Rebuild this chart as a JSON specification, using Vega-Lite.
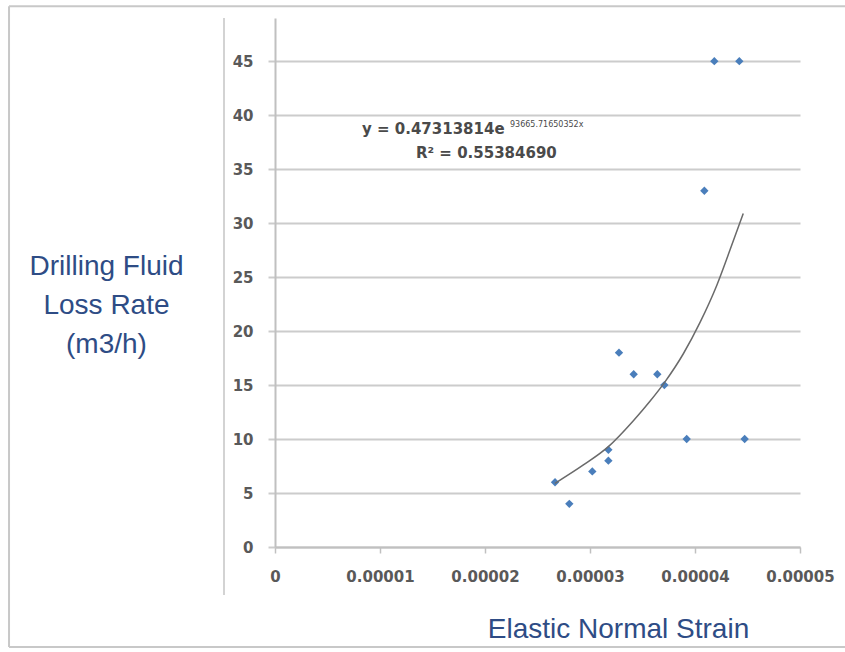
{
  "$schema": "https://vega.github.io/schema/vega-lite/v6.json",
  "width": 525,
  "height": 529,
  "autosize": {"type": "none"},
  "padding": {"left": 275, "top": 18, "right": 45, "bottom": 105},
  "background": "#ffffff",
  "view": {"stroke": null},
  "datasets": {
    "points": [
      {"strain": 0.00004184, "rate": 45},
      {"strain": 0.00004422, "rate": 45},
      {"strain": 0.00004089, "rate": 33},
      {"strain": 0.00003276, "rate": 18},
      {"strain": 0.00003416, "rate": 16},
      {"strain": 0.00003641, "rate": 16},
      {"strain": 0.00003708, "rate": 15},
      {"strain": 0.00003921, "rate": 10},
      {"strain": 0.00004473, "rate": 10},
      {"strain": 0.00003175, "rate": 9},
      {"strain": 0.00003175, "rate": 8},
      {"strain": 0.00003022, "rate": 7},
      {"strain": 0.00002667, "rate": 6},
      {"strain": 0.00002803, "rate": 4}
    ],
    "trend": [
      {"strain": 0.00002667, "rate": 5.9},
      {"strain": 0.00002937, "rate": 7.6},
      {"strain": 0.00003175, "rate": 9.3},
      {"strain": 0.00003413, "rate": 11.7},
      {"strain": 0.00003571, "rate": 13.5},
      {"strain": 0.00003714, "rate": 15.3},
      {"strain": 0.00003889, "rate": 17.9},
      {"strain": 0.00004048, "rate": 20.8},
      {"strain": 0.00004206, "rate": 24.2},
      {"strain": 0.00004333, "rate": 27.5},
      {"strain": 0.00004460, "rate": 30.9}
    ]
  },
  "layer": [
    {
      "data": {"values": [{}]},
      "mark": {"type": "rule", "stroke": "#c8c8c8", "strokeWidth": 2, "clip": false},
      "encoding": {
        "x": {"datum": -0.00002533, "type": "quantitative", "scale": {"domain": [0, 0.00005], "nice": false, "zero": false}},
        "x2": {"datum": 0.000056},
        "y": {"datum": 50.09, "type": "quantitative", "scale": {"domain": [0, 49], "nice": false, "zero": false}},
        "y2": {"datum": 50.09}
      }
    },
    {
      "data": {"values": [{}]},
      "mark": {"type": "rule", "stroke": "#c8c8c8", "strokeWidth": 2, "clip": false},
      "encoding": {
        "x": {"datum": -0.00002533, "type": "quantitative"},
        "x2": {"datum": 0.000056},
        "y": {"datum": -9.26, "type": "quantitative"},
        "y2": {"datum": -9.26}
      }
    },
    {
      "data": {"values": [{}]},
      "mark": {"type": "rule", "stroke": "#c8c8c8", "strokeWidth": 2, "clip": false},
      "encoding": {
        "x": {"datum": -0.00002533, "type": "quantitative"},
        "y": {"datum": -9.26, "type": "quantitative"},
        "y2": {"datum": 50.09}
      }
    },
    {
      "data": {"values": [{}]},
      "mark": {"type": "rule", "stroke": "#c4c4c4", "strokeWidth": 1.5, "clip": false},
      "encoding": {
        "x": {"datum": -0.000004857, "type": "quantitative"},
        "y": {"datum": -4.44, "type": "quantitative"},
        "y2": {"datum": 49}
      }
    },
    {
      "data": {"name": "points"},
      "mark": {"type": "point", "shape": "diamond", "filled": true, "size": 70, "color": "#4a7ebb", "opacity": 1},
      "encoding": {
        "x": {
          "field": "strain",
          "type": "quantitative",
          "scale": {"domain": [0, 0.00005], "nice": false, "zero": false},
          "axis": {
            "values": [0, 0.00001, 0.00002, 0.00003, 0.00004, 0.00005],
            "labelExpr": "datum.value === 0 ? '0' : format(datum.value, '.5f')",
            "grid": false,
            "domainColor": "#c0c0c0",
            "domainWidth": 2,
            "tickColor": "#c0c0c0",
            "tickWidth": 1.5,
            "tickSize": 6,
            "labelPadding": 16,
            "labelFont": "DejaVu Sans",
            "labelFontWeight": "bold",
            "labelFontSize": 15,
            "labelColor": "#595959",
            "labelFlush": false,
            "labelOverlap": false,
            "title": "Elastic Normal Strain",
            "titleFont": "Liberation Sans",
            "titleFontWeight": "normal",
            "titleFontSize": 28,
            "titleColor": "#2e4c85",
            "titleAnchor": null,
            "titleAlign": "center",
            "titleBaseline": "alphabetic",
            "titleX": 343,
            "titleY": 90
          }
        },
        "y": {
          "field": "rate",
          "type": "quantitative",
          "scale": {"domain": [0, 49], "nice": false, "zero": false},
          "axis": {
            "values": [0, 5, 10, 15, 20, 25, 30, 35, 40, 45],
            "grid": true,
            "gridColor": "#cccccc",
            "gridWidth": 2,
            "domainColor": "#c0c0c0",
            "domainWidth": 2,
            "tickColor": "#cccccc",
            "tickWidth": 2,
            "tickSize": 7,
            "labelPadding": 15,
            "labelFont": "DejaVu Sans",
            "labelFontWeight": "bold",
            "labelFontSize": 15,
            "labelColor": "#595959",
            "labelFlush": false,
            "labelOverlap": false,
            "title": ["Drilling Fluid", "Loss Rate", "(m3/h)"],
            "titleFont": "Liberation Sans",
            "titleFontWeight": "normal",
            "titleFontSize": 28,
            "titleColor": "#2e4c85",
            "titleAngle": 0,
            "titleAlign": "center",
            "titleBaseline": "alphabetic",
            "titleLineHeight": 39,
            "titleX": -169,
            "titleY": 256
          }
        }
      }
    },
    {
      "data": {"name": "trend"},
      "mark": {"type": "line", "color": "#6a6a6a", "strokeWidth": 1.5, "interpolate": "monotone"},
      "encoding": {
        "x": {"field": "strain", "type": "quantitative"},
        "y": {"field": "rate", "type": "quantitative"}
      }
    },
    {
      "data": {"values": [{}]},
      "mark": {"type": "text", "text": "y = 0.47313814e", "align": "left", "baseline": "alphabetic", "font": "DejaVu Sans", "fontWeight": "bold", "fontSize": 15, "color": "#4a4a4a"},
      "encoding": {
        "x": {"datum": 0.000008286, "type": "quantitative"},
        "y": {"datum": 38.24, "type": "quantitative"}
      }
    },
    {
      "data": {"values": [{}]},
      "mark": {"type": "text", "text": "93665.71650352x", "align": "left", "baseline": "alphabetic", "font": "DejaVu Sans", "fontSize": 8, "color": "#4a4a4a"},
      "encoding": {
        "x": {"datum": 0.00002238, "type": "quantitative"},
        "y": {"datum": 38.9, "type": "quantitative"}
      }
    },
    {
      "data": {"values": [{}]},
      "mark": {"type": "text", "text": "R² = 0.55384690", "align": "left", "baseline": "alphabetic", "font": "DejaVu Sans", "fontWeight": "bold", "fontSize": 15, "color": "#4a4a4a"},
      "encoding": {
        "x": {"datum": 0.00001343, "type": "quantitative"},
        "y": {"datum": 36.02, "type": "quantitative"}
      }
    }
  ]
}
